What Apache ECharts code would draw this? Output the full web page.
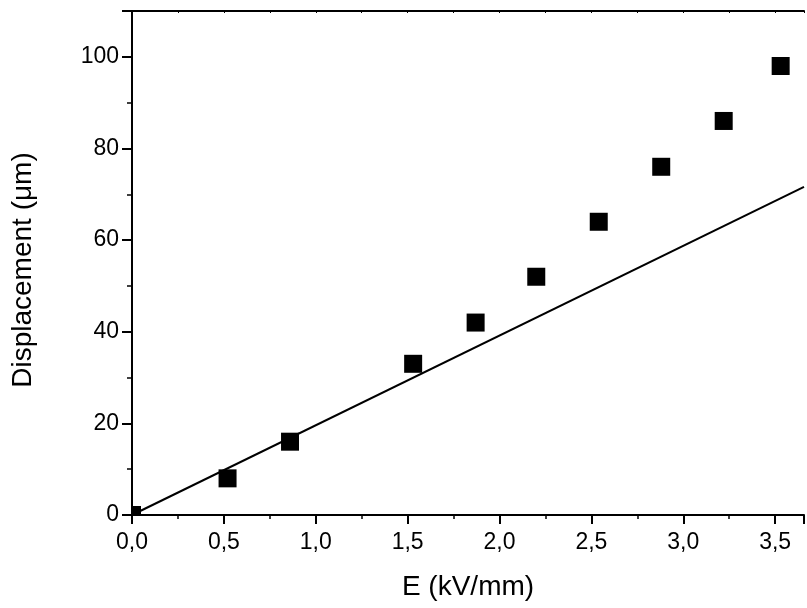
<!DOCTYPE html>
<html>
<head>
<meta charset="utf-8">
<script src="https://cdn.jsdelivr.net/npm/echarts@6/dist/echarts.min.js"></script>
<style>
html,body{margin:0;padding:0;background:#fff;}
#chart{width:807px;height:608px;}
</style>
</head>
<body>
<div id="chart"></div>
<script>
// Data
const fieldE = [0.0, 0.52, 0.86, 1.53, 1.87, 2.20, 2.54, 2.88, 3.22, 3.53];
const displacement = [0, 8, 16, 33, 42, 52, 64, 76, 86, 98];
const fitE = [0.0, 3.657];
const fitDisp = [0.0, 71.6];
const xTitle = 'E (kV/mm)';
const yTitle = 'Displacement (\u03bcm)';
const xMin = 0, xMax = 3.657, xStep = 0.5;
const yMin = 0, yMax = 110, yStep = 20;

const font = '"Liberation Sans", Arial, Helvetica, sans-serif';
const chart = echarts.init(document.getElementById('chart'), null, {renderer: 'canvas'});

const points = fieldE.map((e, i) => [e, displacement[i]]);
const fit = fitE.map((e, i) => [e, fitDisp[i]]);

function isMult(v, step) {
  const r = v / step;
  return Math.abs(r - Math.round(r)) < 1e-6;
}

chart.setOption({
  backgroundColor: '#ffffff',
  animation: false,
  grid: {left: 132, right: 0, top: 11, bottom: 93, containLabel: false},
  xAxis: [{
    type: 'value', position: 'bottom', min: xMin, max: xMax, interval: xStep,
    name: xTitle, nameLocation: 'middle', nameGap: 58,
    nameTextStyle: {fontFamily: font, fontSize: 28, color: '#000'},
    axisLine: {show: true, onZero: false, lineStyle: {color: '#000', width: 2}},
    axisTick: {show: true, inside: false, length: 9, lineStyle: {color: '#000', width: 2}},
    minorTick: {show: true, splitNumber: 2, length: 4, lineStyle: {color: '#000', width: 1.5}},
    axisLabel: {
      fontFamily: font, fontSize: 23, color: '#000', margin: 16,
      formatter: v => isMult(v, xStep) ? v.toFixed(1).replace('.', ',') : ''
    },
    splitLine: {show: false}
  }, {
    type: 'value', position: 'top', min: xMin, max: xMax, interval: 0.25,
    axisLine: {show: true, onZero: false, lineStyle: {color: '#000', width: 2}},
    axisTick: {show: true, inside: true, length: 2, lineStyle: {color: '#000', width: 1}},
    axisLabel: {show: false},
    splitLine: {show: false}
  }],
  yAxis: [{
    type: 'value', min: yMin, max: yMax, interval: yStep,
    name: yTitle, nameLocation: 'middle', nameGap: 95, nameRotate: 90,
    nameTextStyle: {fontFamily: font, fontSize: 28, color: '#000', padding: [0, 14, 0, 0]},
    axisLine: {show: true, onZero: false, lineStyle: {color: '#000', width: 2}},
    axisTick: {show: true, inside: false, length: 10, lineStyle: {color: '#000', width: 2}},
    minorTick: {show: true, splitNumber: 2, length: 5, lineStyle: {color: '#000', width: 1.5}},
    axisLabel: {
      fontFamily: font, fontSize: 23, color: '#000', margin: 13,
      formatter: v => isMult(v, yStep) ? String(v) : ''
    },
    splitLine: {show: false}
  }],
  series: [{
    type: 'line', data: fit, xAxisIndex: 0, yAxisIndex: 0,
    showSymbol: false, symbol: 'none', clip: true,
    lineStyle: {color: '#000', width: 2}, z: 2
  }, {
    type: 'custom', data: points, xAxisIndex: 0, yAxisIndex: 0,
    encode: {x: 0, y: 1}, z: 3,
    renderItem: function (params, api) {
      const c = api.coord([api.value(0), api.value(1)]);
      const s = 18;
      const cs = params.coordSys;
      const r = echarts.graphic.clipRectByRect(
        {x: c[0] - s / 2, y: c[1] - s / 2, width: s, height: s},
        {x: cs.x, y: cs.y, width: cs.width, height: cs.height}
      );
      if (!r) return null;
      return {type: 'rect', shape: r, style: {fill: '#000'}};
    }
  }]
});
</script>
</body>
</html>
